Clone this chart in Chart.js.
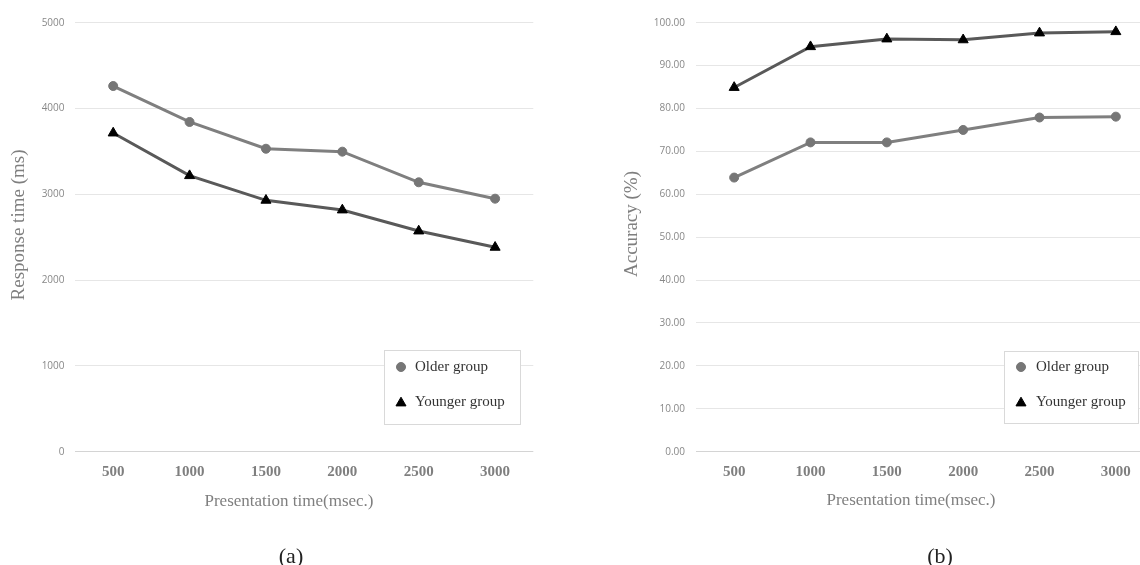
<!DOCTYPE html>
<html>
<head>
<meta charset="utf-8">
<script src="https://cdn.jsdelivr.net/npm/chart.js@4.4.1/dist/chart.umd.min.js"></script>
<style>
  html, body { margin: 0; padding: 0; background: #ffffff; overflow: hidden; width: 1140px; height: 565px; }
  #wrap { position: relative; width: 1140px; height: 565px; overflow: hidden; }
  canvas { position: absolute; top: 0; }
  #c1 { left: 0; }
  #c2 { left: 580px; }
</style>
</head>
<body>
<div id="wrap">
  <canvas id="c1" width="560" height="565"></canvas>
  <canvas id="c2" width="600" height="565"></canvas>
</div>
<script>
// ---------- data ----------
const categories = ['500', '1000', '1500', '2000', '2500', '3000'];
const seriesNames = ['Older group', 'Younger group'];
const rtOlder   = [4262, 3843, 3531, 3497, 3140, 2949];
const rtYounger = [3714, 3217, 2930, 2817, 2572, 2382];
const accOlder   = [63.9, 72.1, 72.1, 75.0, 77.9, 78.1];
const accYounger = [84.9, 94.4, 96.2, 96.0, 97.6, 97.9];
const rtTickRange  = [0, 5000, 1000];
const accTickRange = [0, 100, 10];
const xTitleText = 'Presentation time(msec.)';
const rtTitleText = 'Response time (ms)';
const accTitleText = 'Accuracy (%)';
const captions = ['(a)', '(b)'];

// ---------- styles ----------
const SERIF = '"Liberation Serif", "Times New Roman", serif';
const SANS = '"Open Sans", "Noto Sans", sans-serif';
const OLDER_LINE = '#7f7f7f';
const OLDER_PT = '#767676';
const YOUNGER_LINE = '#595959';
const YOUNGER_PT = '#000000';
const AXIS_TEXT = '#7f7f7f';

function datasets(older, younger) {
  return [
    { label: seriesNames[0], data: older, borderColor: OLDER_LINE, borderWidth: 3,
      pointStyle: 'circle', pointRadius: 4.5, pointBackgroundColor: OLDER_PT, pointBorderColor: OLDER_PT,
      pointBorderWidth: 1, tension: 0, fill: false },
    { label: seriesNames[1], data: younger, borderColor: YOUNGER_LINE, borderWidth: 3,
      pointStyle: 'triangle', pointRadius: 5.8, pointBackgroundColor: YOUNGER_PT, pointBorderColor: YOUNGER_PT,
      pointBorderWidth: 1, tension: 0, fill: false }
  ];
}

function drawMarker(ctx, style, x, y, r, color) {
  ctx.save();
  ctx.fillStyle = color;
  ctx.strokeStyle = color;
  ctx.lineWidth = 1;
  ctx.beginPath();
  if (style === 'circle') {
    ctx.arc(x, y, r, 0, Math.PI * 2);
  } else {
    const a = Math.PI * 2 / 3;
    ctx.moveTo(x, y - r);
    ctx.lineTo(x + Math.sin(a) * r, y - Math.cos(a) * r);
    ctx.lineTo(x + Math.sin(2 * a) * r, y - Math.cos(2 * a) * r);
    ctx.closePath();
  }
  ctx.fill();
  ctx.stroke();
  ctx.restore();
}

const overlayPlugin = {
  id: 'overlay',
  afterDraw(chart, args, opts) {
    const ctx = chart.ctx;
    ctx.save();
    // x title
    ctx.fillStyle = AXIS_TEXT;
    ctx.font = '17px ' + SERIF;
    ctx.textAlign = 'center';
    ctx.textBaseline = 'middle';
    ctx.fillText(opts.xTitle.text, opts.xTitle.x, opts.xTitle.y);
    // y title
    ctx.save();
    ctx.translate(opts.yTitle.x, opts.yTitle.y);
    ctx.rotate(-Math.PI / 2);
    ctx.font = '19px ' + SERIF;
    ctx.fillText(opts.yTitle.text, 0, 0);
    ctx.restore();
    // caption
    ctx.fillStyle = '#222222';
    ctx.font = '22px ' + SERIF;
    ctx.textBaseline = 'alphabetic';
    ctx.fillText(opts.caption.text, opts.caption.x, opts.caption.y);
    // legend
    const L = opts.legend;
    ctx.fillStyle = '#ffffff';
    ctx.fillRect(L.x, L.y, L.w, L.h);
    ctx.strokeStyle = '#d9d9d9';
    ctx.lineWidth = 1;
    ctx.strokeRect(L.x + 0.5, L.y + 0.5, L.w, L.h);
    ctx.font = '15px ' + SERIF;
    ctx.textAlign = 'left';
    ctx.textBaseline = 'middle';
    chart.data.datasets.forEach((ds, i) => {
      const cy = L.y + L.rowY[i];
      const r = ds.pointStyle === 'circle' ? 4.5 : 5.8;
      drawMarker(ctx, ds.pointStyle, L.x + L.markerX, cy + (ds.pointStyle === 'circle' ? 0 : 1), r, ds.pointBackgroundColor);
      ctx.fillStyle = '#333333';
      ctx.fillText(ds.label, L.x + L.textX, cy);
    });
    ctx.restore();
  }
};

function makeOptions(range, tickFmt, yWidth, xHeight, padRight, labelPad, overlay) {
  return {
    responsive: false,
    animation: false,
    devicePixelRatio: 1,
    layout: { padding: { top: 22.7, right: padRight, bottom: 0, left: 0 } },
    plugins: {
      legend: { display: false },
      tooltip: { enabled: false },
      overlay: overlay
    },
    scales: {
      x: {
        type: 'category',
        offset: true,
        grid: { display: false, drawTicks: false },
        border: { display: false },
        ticks: { color: AXIS_TEXT, font: { family: SERIF, size: 15, weight: 'bold' }, padding: 11, maxRotation: 0 },
        afterFit(scale) { scale.height = xHeight; }
      },
      y: {
        min: range[0], max: range[1],
        grid: {
          drawTicks: false,
          color: (c) => (c.tick && c.tick.value === 0 ? '#d4d4d4' : '#e6e6e6'),
          lineWidth: 1
        },
        border: { display: false },
        ticks: { stepSize: range[2], color: '#888888', font: { family: SANS, size: 10 }, padding: labelPad,
                 callback: tickFmt },
        afterFit(scale) { scale.width = yWidth; }
      }
    }
  };
}

new Chart(document.getElementById('c1'), {
  type: 'line',
  data: { labels: categories, datasets: datasets(rtOlder, rtYounger) },
  options: makeOptions(rtTickRange, (v) => String(v), 75, 113.3, 26.7, 10.5, {
    xTitle: { text: xTitleText, x: 289, y: 502 },
    yTitle: { text: rtTitleText, x: 19, y: 225 },
    caption: { text: captions[0], x: 291, y: 563 },
    legend: { x: 384, y: 350, w: 136, h: 74, markerX: 17, textX: 31, rowY: [17, 52] }
  }),
  plugins: [overlayPlugin]
});

new Chart(document.getElementById('c2'), {
  type: 'line',
  data: { labels: categories, datasets: datasets(accOlder, accYounger) },
  options: makeOptions(accTickRange, (v) => Number(v).toFixed(2), 116, 113.3, 26, 11, {
    xTitle: { text: xTitleText, x: 331, y: 501 },
    yTitle: { text: accTitleText, x: 52, y: 224 },
    caption: { text: captions[1], x: 360, y: 563 },
    legend: { x: 424, y: 351, w: 134, h: 72, markerX: 17, textX: 32, rowY: [16, 51] }
  }),
  plugins: [overlayPlugin]
});
</script>
</body>
</html>
